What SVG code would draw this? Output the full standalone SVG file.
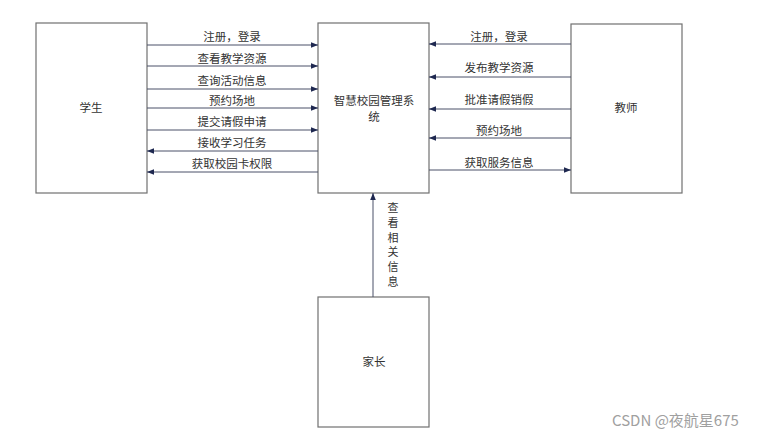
<svg xmlns="http://www.w3.org/2000/svg" width="781" height="439" viewBox="0 0 781 439">
<style>
.box{fill:#fff;stroke:#707070;stroke-width:1.2}
.ln{stroke:#4a5068;stroke-width:1;fill:none;marker-end:url(#ah)}
text{font-family:"Noto Sans CJK SC","Liberation Sans",sans-serif;font-size:11.5px;fill:#333}
.lbl{text-anchor:middle}
.v{font-size:11px}
</style>
<defs>
<marker id="ah" viewBox="0 0 10 10" refX="10" refY="5" markerWidth="7" markerHeight="7" markerUnits="userSpaceOnUse" orient="auto">
<path d="M0,1 L10,5 L0,9 z" fill="#1e2850"/>
</marker>
</defs>
<rect width="781" height="439" fill="#fff"/>
<g id="student"><rect class="box" x="36" y="23" width="111" height="170"/><text class="lbl" x="91" y="112">学生</text></g>
<g id="system"><rect class="box" x="318" y="23" width="111" height="170"/><text class="lbl" x="374" y="105">智慧校园管理系</text><text class="lbl" x="374" y="121">统</text></g>
<g id="teacher"><rect class="box" x="571" y="24" width="111" height="169"/><text class="lbl" x="626" y="112">教师</text></g>
<g id="parent"><rect class="box" x="318" y="297" width="111" height="130"/><text class="lbl" x="374" y="366">家长</text></g>
<g id="connectors">
<line class="ln" x1="147" y1="45" x2="318" y2="45"/>
<line class="ln" x1="147" y1="66" x2="318" y2="66"/>
<line class="ln" x1="147" y1="89" x2="318" y2="89"/>
<line class="ln" x1="147" y1="108" x2="318" y2="108"/>
<line class="ln" x1="147" y1="130" x2="318" y2="130"/>
<line class="ln" x1="318" y1="151" x2="147" y2="151"/>
<line class="ln" x1="318" y1="172" x2="147" y2="172"/>
<line class="ln" x1="571" y1="44" x2="429" y2="44"/>
<line class="ln" x1="571" y1="77" x2="429" y2="77"/>
<line class="ln" x1="571" y1="109" x2="429" y2="109"/>
<line class="ln" x1="571" y1="138" x2="429" y2="138"/>
<line class="ln" x1="429" y1="170" x2="571" y2="170"/>
<line class="ln" x1="373" y1="297" x2="373" y2="193"/>
</g>
<g id="labels">
<text class="lbl" x="232" y="41">注册，登录</text>
<text class="lbl" x="232" y="63">查看教学资源</text>
<text class="lbl" x="232" y="85">查询活动信息</text>
<text class="lbl" x="232" y="105">预约场地</text>
<text class="lbl" x="232" y="126">提交请假申请</text>
<text class="lbl" x="232" y="147">接收学习任务</text>
<text class="lbl" x="232" y="168">获取校园卡权限</text>
<text class="lbl" x="499" y="41">注册，登录</text>
<text class="lbl" x="499" y="72">发布教学资源</text>
<text class="lbl" x="499" y="104">批准请假销假</text>
<text class="lbl" x="499" y="135">预约场地</text>
<text class="lbl" x="499" y="167">获取服务信息</text>
<text class="lbl v" x="393" y="212">查</text>
<text class="lbl v" x="393" y="226.8">看</text>
<text class="lbl v" x="393" y="241.6">相</text>
<text class="lbl v" x="393" y="256.4">关</text>
<text class="lbl v" x="393" y="271.2">信</text>
<text class="lbl v" x="393" y="286">息</text>
</g>
<text x="612" y="426" style="font-size:15px;fill:#a0a0a0">CSDN @夜航星675</text>
</svg>
